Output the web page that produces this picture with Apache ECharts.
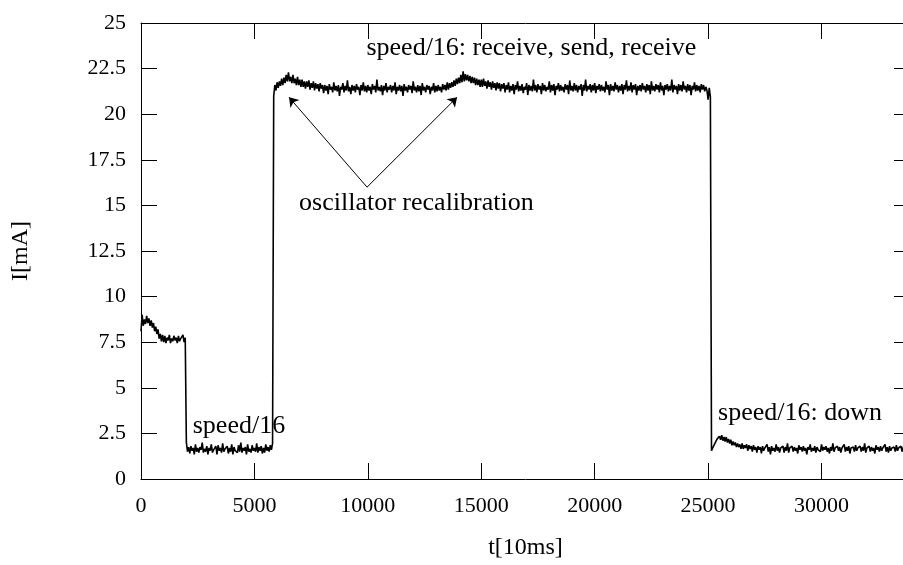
<!DOCTYPE html>
<html>
<head>
<meta charset="utf-8">
<script src="https://cdn.jsdelivr.net/npm/echarts@6/dist/echarts.min.js"></script>
<style>
html,body{margin:0;padding:0;background:#fff;overflow:hidden;width:903px;height:565px;}
#chart{width:910px;height:565px;}
</style>
</head>
<body>
<div id="chart"></div>
<script>
// sample spacing (t units) inside each segment
const sampleStep = 50;
// segment start times
const segStarts = [0, 2000, 5850, 25150];
// segment A: initial ~8 mA
const segA = [8.1, 9.0, 8.4, 8.75, 8.5, 8.95, 8.55, 8.8, 8.4, 8.7, 8.3, 8.55, 8.1, 8.35, 7.95, 8.2, 7.7, 7.95, 7.55, 7.9,
  7.5, 7.85, 7.45, 7.75, 7.6, 7.9, 7.45, 7.7, 7.55, 7.85, 7.6, 7.75, 7.45, 7.85, 7.55, 7.7, 7.6, 7.9, 7.5, 7.75];
// segment B: speed/16 idle
const segB = [2.0, 1.5, 1.75, 1.4, 1.8, 1.55, 1.7, 1.35, 1.9, 1.5, 1.7, 1.45, 1.75, 1.6, 2.0, 1.45, 1.65, 1.5, 1.8, 1.35,
  1.7, 1.55, 1.9, 1.45, 1.6, 1.5, 1.8, 1.35, 1.85, 1.55, 1.7, 1.45, 1.95, 1.5, 1.65, 1.55, 1.8, 1.4, 1.7, 1.5,
  1.9, 1.35, 1.75, 1.55, 1.65, 1.45, 1.85, 1.5, 2.0, 1.45, 1.7, 1.55, 1.75, 1.35, 1.9, 1.5, 1.65, 1.45, 1.85, 1.55,
  1.7, 1.5, 1.95, 1.45, 1.75, 1.55, 1.8, 1.4, 1.7, 1.45, 1.9, 1.55, 1.75, 1.5, 1.85, 1.6, 1.95];
// segment C: receive, send, receive
const segC = [21.0, 21.6, 21.3, 21.75, 21.45, 21.8, 21.55, 21.95, 21.6, 22.0, 21.7, 22.15, 21.8,
  22.3, 21.8, 22.05, 21.7, 22.15, 21.7, 21.95, 21.6, 22.05, 21.6, 21.9, 21.5, 21.9, 21.5, 21.8, 21.4,
  21.8, 21.5, 21.85, 21.35, 21.7, 21.45, 21.8, 21.3, 21.7, 21.4, 21.65, 21.25, 21.7, 21.4, 21.6,
  21.15, 21.6, 21.3, 21.55, 21.1, 21.65, 21.35, 21.5, 21.2, 21.75,
  21.3, 21.55, 21.25, 21.6, 21.0, 21.5, 21.35, 21.7, 21.2, 21.55,
  21.3, 21.85, 21.25, 21.5, 21.1, 21.6, 21.3, 21.55, 21.2, 21.65,
  21.35, 21.5, 21.05, 21.6, 21.3, 21.75, 21.25, 21.55, 21.2, 21.6,
  21.3, 21.5, 21.1, 21.65, 21.35, 21.55, 21.2, 21.9, 21.3, 21.5,
  21.25, 21.6, 21.05, 21.55, 21.3, 21.7, 21.2, 21.5, 21.35, 21.6,
  21.2, 21.55, 21.3, 21.75, 21.1, 21.5, 21.3, 21.6, 21.25, 21.55,
  21.0, 21.65, 21.3, 21.5, 21.2, 21.6, 21.35, 21.55, 21.15, 21.8,
  21.3, 21.5, 21.2, 21.6, 21.25, 21.55, 21.05, 21.7, 21.3, 21.5,
  21.2, 21.6, 21.35, 21.55, 21.1, 21.5, 21.3, 21.7, 21.2, 21.55,
  21.25, 21.6, 21.3, 21.5, 21.2, 21.65, 21.35, 21.6, 21.3, 21.75,
  21.35, 21.7, 21.45, 21.75, 21.5, 21.85, 21.55, 21.95, 21.65, 22.0, 21.7, 22.15, 21.75, 22.35, 21.8, 22.2, 21.85, 22.15,
  21.8, 22.1, 21.7, 22.05, 21.7, 22.0, 21.6, 21.95, 21.6, 21.9, 21.5, 21.9, 21.5, 21.95, 21.55, 21.8,
  21.4, 21.85, 21.5, 21.75, 21.35, 21.8, 21.45, 21.7, 21.3, 21.75, 21.4, 21.7, 21.25, 21.65, 21.4, 21.7,
  21.2, 21.6, 21.35, 21.75, 21.2, 21.55, 21.3, 21.65, 21.1, 21.6,
  21.35, 21.8, 21.25, 21.55, 21.3, 21.65, 21.15, 21.5, 21.35, 21.7,
  21.05, 21.6, 21.3, 21.55, 21.25, 21.9, 21.3, 21.6, 21.2, 21.65,
  21.35, 21.55, 21.1, 21.7, 21.3, 21.6, 21.25, 21.5, 21.35, 21.8,
  21.2, 21.6, 21.3, 21.65, 21.05, 21.55, 21.35, 21.7, 21.25, 21.6,
  21.3, 21.5, 21.2, 21.65, 21.35, 21.6, 21.1, 21.85, 21.3, 21.55,
  21.25, 21.7, 21.3, 21.6, 21.2, 21.55, 21.35, 21.65, 21.0, 21.6,
  21.3, 21.9, 21.25, 21.55, 21.35, 21.65, 21.2, 21.6, 21.3, 21.7,
  21.15, 21.55, 21.35, 21.65, 21.25, 21.6, 21.3, 21.5, 21.2, 21.8,
  21.35, 21.6, 21.05, 21.65, 21.3, 21.55, 21.25, 21.75, 21.35, 21.6,
  21.2, 21.55, 21.3, 21.65, 21.1, 21.6, 21.35, 21.85, 21.25, 21.55,
  21.3, 21.75, 21.2, 21.6, 21.35, 21.65, 21.05, 21.55, 21.3, 21.6,
  21.25, 21.7, 21.35, 21.55, 21.2, 21.65, 21.3, 21.6, 21.1, 21.8,
  21.3, 21.55, 21.25, 21.65, 21.35, 21.6, 21.2, 21.75, 21.3, 21.55,
  21.05, 21.6, 21.35, 21.65, 21.25, 21.55, 21.3, 21.9, 21.2, 21.6,
  21.35, 21.55, 21.1, 21.65, 21.3, 21.6, 21.25, 21.8, 21.35, 21.55,
  21.2, 21.65, 21.3, 21.6, 21.05, 21.55, 21.35, 21.75, 21.25, 21.6,
  21.3, 21.55, 21.2, 21.65, 21.35, 21.6, 21.25, 21.5, 21.3, 20.8,
  21.45, 20.95];
// segment D: speed/16 down
const segD = [1.55, 1.7, 1.8, 1.95, 2.0, 2.2, 2.1, 2.35, 2.15, 2.4,
  2.1, 2.3, 2.05, 2.3, 2.0, 2.2, 1.95, 2.15, 1.85, 2.05,
  1.85, 2.0, 1.75, 1.95, 1.75, 1.9, 1.65, 1.95, 1.65, 1.85,
  1.7, 1.9, 1.55, 1.85, 1.65, 1.8, 1.5, 1.85, 1.6, 1.75,
  1.45, 1.8, 1.6, 1.75, 1.4, 1.8, 1.55, 1.7, 1.6, 1.9,
  1.5, 1.75, 1.35, 1.8, 1.55, 1.7, 1.5, 1.9, 1.55, 1.75,
  1.45, 1.7, 1.6, 1.8, 1.45, 1.75, 1.55, 1.95, 1.45, 1.7,
  1.6, 1.8, 1.5, 1.75, 1.55, 1.7, 1.4, 1.85, 1.6, 1.75,
  1.5, 1.8, 1.55, 1.7, 1.35, 1.75, 1.6, 1.9, 1.5, 1.7,
  1.55, 1.8, 1.45, 1.75, 1.6, 1.7, 1.5, 1.9, 1.55, 1.75,
  1.6, 1.8, 1.5, 1.7, 1.4, 1.75, 1.55, 1.95, 1.5, 1.7,
  1.6, 1.8, 1.55, 1.75, 1.45, 1.7, 1.6, 1.9, 1.5, 1.75,
  1.55, 1.8, 1.4, 1.7, 1.6, 1.75, 1.5, 1.85, 1.55, 1.7,
  1.6, 1.8, 1.5, 1.75, 1.55, 1.95, 1.45, 1.7, 1.6, 1.8,
  1.5, 1.75, 1.55, 1.7, 1.4, 1.85, 1.6, 1.75, 1.5, 1.8,
  1.55, 1.7, 1.6, 1.9, 1.5, 1.75, 1.45, 1.8, 1.55, 1.7,
  1.6, 1.75, 1.5, 1.85, 1.55, 1.7, 1.6, 1.8, 1.5, 1.75,
  1.65, 1.8, 1.55, 1.75];
// annotations [text, t, I]
const labels = [
  ['speed/16', 2280, 2.9],
  ['speed/16: down', 25440, 3.6],
  ['speed/16: receive, send, receive', 9938, 23.6],
  ['oscillator recalibration', 6970, 15.14]
];
// arrows [fromT, fromI, toT, toI]
const arrows = [
  [9965, 16.0, 6526, 20.93],
  [9965, 16.0, 13933, 20.93]
];
const xTicks = {min: 0, max: 33900, interval: 5000};
const yTicks = {min: 0, max: 25, interval: 2.5};

const segments = [segA, segB, segC, segD];
const data = [];
segments.forEach((vals, k) => {
  vals.forEach((v, i) => data.push([segStarts[k] + i * sampleStep, v]));
});

const font = 'Liberation Serif';
const axisLine = {show: true, onZero: false, lineStyle: {color: '#000', width: 1}};
const tick = {show: true, inside: true, length: 16, lineStyle: {color: '#000', width: 1}};
const plain = v => String(v);

const chart = echarts.init(document.getElementById('chart'), null, {renderer: 'canvas'});
chart.setOption({
  animation: false,
  backgroundColor: '#fff',
  grid: {left: 141, right: 0, top: 23, bottom: 83, containLabel: false},
  xAxis: [
    {type: 'value', position: 'bottom', min: xTicks.min, max: xTicks.max, interval: xTicks.interval,
     axisLine, axisTick: tick, splitLine: {show: false},
     axisLabel: {fontFamily: font, fontSize: 22, color: '#000', margin: 16, showMaxLabel: false, formatter: plain},
     name: 't[10ms]', nameLocation: 'middle', nameGap: 57,
     nameTextStyle: {fontFamily: font, fontSize: 24, color: '#000'}},
    {type: 'value', position: 'top', min: xTicks.min, max: xTicks.max, interval: xTicks.interval,
     axisLine, axisTick: tick, splitLine: {show: false}, axisLabel: {show: false}}
  ],
  yAxis: [
    {type: 'value', position: 'left', min: yTicks.min, max: yTicks.max, interval: yTicks.interval,
     axisLine, axisTick: tick, splitLine: {show: false},
     axisLabel: {fontFamily: font, fontSize: 22, color: '#000', margin: 15, formatter: plain},
     name: 'I[mA]', nameLocation: 'middle', nameGap: 108, nameRotate: 90,
     nameTextStyle: {fontFamily: font, fontSize: 24, color: '#000'}},
    {type: 'value', position: 'right', min: yTicks.min, max: yTicks.max, interval: yTicks.interval,
     axisLine, axisTick: tick, splitLine: {show: false}, axisLabel: {show: false}}
  ],
  series: [{
    type: 'line',
    data: data,
    showSymbol: false,
    symbol: 'none',
    lineStyle: {color: '#000', width: 1.6},
    silent: true,
    markPoint: {
      silent: true,
      symbol: 'circle',
      symbolSize: 0,
      itemStyle: {color: 'rgba(0,0,0,0)'},
      label: {show: true, position: 'right', distance: 0, color: '#000', fontFamily: font, fontSize: 26,
              formatter: p => p.name},
      data: labels.map(l => ({name: l[0], coord: [l[1], l[2]]}))
    },
    markLine: {
      silent: true,
      symbol: ['none', 'arrow'],
      symbolSize: 9,
      label: {show: false},
      lineStyle: {color: '#000', width: 1, type: 'solid'},
      emphasis: {disabled: true},
      data: arrows.map(a => [{coord: [a[0], a[1]]}, {coord: [a[2], a[3]]}])
    }
  }]
});
</script>
</body>
</html>
